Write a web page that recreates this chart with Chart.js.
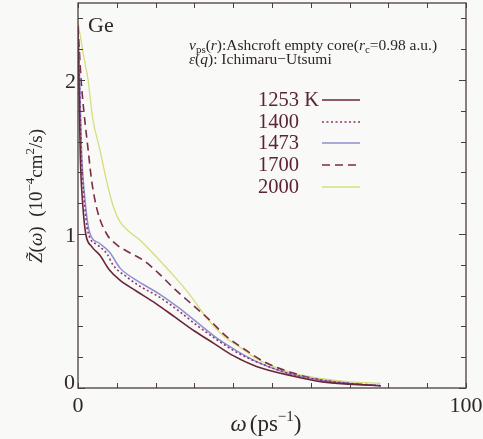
<!DOCTYPE html>
<html><head><meta charset="utf-8">
<script src="https://cdn.jsdelivr.net/npm/chart.js@4.4.1/dist/chart.umd.min.js"></script>
<style>html,body{margin:0;padding:0;background:#f9f9f7}#wrap{width:483px;height:439px;position:relative}
.pre{position:absolute;left:-999px;top:0;font-family:"Liberation Serif";}
.pre i{font-style:italic}</style>
</head><body><div id="wrap"><canvas id="c" width="483" height="439"></canvas></div>
<span class="pre">Ge 1253 <i>ω Z r q</i></span>
<script>
// ---- data ----
const seriesLabels = ["1253 K", "1400", "1473", "1700", "2000"];
const w1253 = [0, 0.3, 0.6, 1.2, 2, 3.5, 5.7, 8, 10.8, 15, 20, 25, 30, 35, 40, 46, 55, 63, 70, 78];
const z1253 = [2.3, 1.9, 1.5, 1.2, 1.0, 0.92, 0.86, 0.77, 0.70, 0.63, 0.55, 0.46, 0.37, 0.29, 0.21, 0.14, 0.08, 0.04, 0.025, 0.015];
const w1400 = [0, 0.4, 0.8, 1.5, 2.6, 5, 7.5, 9, 12.6, 16, 21, 26, 31, 36, 41, 47, 55, 63, 70, 78];
const z1400 = [2.3, 1.95, 1.55, 1.25, 1.01, 0.93, 0.87, 0.80, 0.72, 0.66, 0.59, 0.50, 0.40, 0.31, 0.23, 0.16, 0.09, 0.05, 0.03, 0.015];
const w1473 = [0, 0.5, 0.9, 1.7, 3, 5.5, 8.2, 10.8, 15, 21, 26, 31, 36, 41, 47, 55, 63, 70, 78];
const z1473 = [2.3, 1.95, 1.55, 1.25, 1.01, 0.94, 0.88, 0.78, 0.70, 0.61, 0.52, 0.42, 0.32, 0.24, 0.16, 0.09, 0.05, 0.03, 0.015];
const w1700 = [0, 0.8, 1.5, 2.6, 3.5, 5, 7.4, 10, 12.5, 16.8, 21, 25, 30, 34, 38, 43, 48, 55, 63, 70, 78];
const z1700 = [2.35, 2.0, 1.8, 1.55, 1.35, 1.15, 1.0, 0.93, 0.89, 0.83, 0.74, 0.64, 0.53, 0.44, 0.34, 0.25, 0.17, 0.10, 0.05, 0.03, 0.015];
const w2000 = [0, 0.5, 1.5, 2.6, 3.8, 5.7, 7.5, 9.2, 10.8, 13, 16, 21, 25, 29, 33, 37.4, 42, 46, 55, 63, 70, 78];
const z2000 = [2.38, 2.3, 2.15, 2.0, 1.75, 1.54, 1.33, 1.17, 1.08, 1.02, 0.96, 0.83, 0.72, 0.60, 0.46, 0.34, 0.26, 0.19, 0.10, 0.06, 0.04, 0.03];
const xTickValues = [0, 10, 20, 30, 40, 50, 60, 70, 80, 90, 100];
const xTickLabels = [0, 100];
const yTickValues = [0, 0.2, 0.4, 0.6, 0.8, 1, 1.2, 1.4, 1.6, 1.8, 2, 2.2, 2.4];
const yTickLabels = [0, 1, 2];

const pts = (w, z) => w.map((x, i) => ({x: x, y: z[i]}));
const SER = [
  {w: w1253, z: z1253, color: '#6a2637', dash: [], width: 1.6},
  {w: w1400, z: z1400, color: '#8c3570', dash: [2, 2.5], width: 1.6},
  {w: w1473, z: z1473, color: '#8e8fcf', dash: [], width: 1.5},
  {w: w1700, z: z1700, color: '#7a2d45', dash: [8, 5], width: 1.6},
  {w: w2000, z: z2000, color: '#d9dc7c', dash: [], width: 1.3}
];

const serif = '"Liberation Serif", "Times New Roman", Times, serif';

function rich(ctx, x, y, segs, draw) {
  let cx = x;
  for (const s of segs) {
    ctx.font = s.f;
    if (draw) ctx.fillText(s.t, cx, y + (s.dy || 0));
    cx += ctx.measureText(s.t).width + (s.sp || 0);
  }
  return cx - x;
}

const deco = {
  id: 'deco',
  afterDraw(chart) {
    const ctx = chart.ctx, a = chart.chartArea;
    const xs = chart.scales.x, ys = chart.scales.y;
    ctx.save();
    ctx.strokeStyle = '#4a3d40'; ctx.lineWidth = 1.3;
    ctx.strokeRect(a.left, a.top, a.right - a.left, a.bottom - a.top);
    ctx.lineWidth = 1;
    ctx.beginPath();
    for (const v of xTickValues) {
      const px = Math.round(xs.getPixelForValue(v)) + 0.5;
      ctx.moveTo(px, a.bottom); ctx.lineTo(px, a.bottom - 5);
      ctx.moveTo(px, a.top); ctx.lineTo(px, a.top + 5);
    }
    for (const v of yTickValues) {
      const py = Math.round(ys.getPixelForValue(v)) + 0.5;
      const L = (Math.abs(v - Math.round(v)) < 1e-6) ? 7 : 5;
      ctx.moveTo(a.left, py); ctx.lineTo(a.left + L, py);
      ctx.moveTo(a.right, py); ctx.lineTo(a.right - L, py);
    }
    ctx.stroke();

    ctx.fillStyle = '#2e2628';
    ctx.font = '22px ' + serif;
    ctx.textBaseline = 'alphabetic';
    ctx.textAlign = 'right';
    for (const v of yTickLabels) {
      const py = ys.getPixelForValue(v);
      if (v === 0) ctx.fillText(String(v), a.left - 3, py + 1);
      else ctx.fillText(String(v), a.left - 2, py + 8);
    }
    ctx.textAlign = 'center';
    for (const v of xTickLabels) {
      const px = xs.getPixelForValue(v);
      ctx.fillText(String(v), px, a.bottom + 24);
    }
    ctx.textAlign = 'left';

    const xt = [
      {t: 'ω', f: 'italic 23px ' + serif, sp: 3},
      {t: '(ps', f: '23px ' + serif},
      {t: '−1', f: '15px ' + serif, dy: -10},
      {t: ')', f: '23px ' + serif}
    ];
    const xw = rich(ctx, 0, 0, xt, false);
    rich(ctx, 266 - xw / 2, 431, xt, true);

    const yt = [
      {t: 'Z̃', f: 'italic 19px ' + serif},
      {t: '(', f: '19px ' + serif},
      {t: 'ω', f: 'italic 19px ' + serif},
      {t: ')  (10', f: '19px ' + serif},
      {t: '−4', f: '13px ' + serif, dy: -8},
      {t: 'cm', f: '19px ' + serif},
      {t: '2', f: '13px ' + serif, dy: -8},
      {t: '/s)', f: '19px ' + serif}
    ];
    const yw = rich(ctx, 0, 0, yt, false);
    ctx.save();
    ctx.translate(42, 196);
    ctx.rotate(-Math.PI / 2);
    rich(ctx, -yw / 2, 0, yt, true);
    ctx.restore();

    ctx.font = '22px ' + serif;
    ctx.fillText('Ge', 88, 32);

    const l1 = [
      {t: 'v', f: 'italic 15.5px ' + serif},
      {t: 'ps', f: '11px ' + serif, dy: 3},
      {t: '(', f: '15.5px ' + serif},
      {t: 'r', f: 'italic 15.5px ' + serif},
      {t: '):Ashcroft empty core(', f: '15.5px ' + serif},
      {t: 'r', f: 'italic 15.5px ' + serif},
      {t: 'c', f: '11px ' + serif, dy: 3},
      {t: '=0.98 a.u.)', f: '15.5px ' + serif}
    ];
    rich(ctx, 189, 50, l1, true);
    const l2 = [
      {t: 'ε', f: 'italic 15.5px ' + serif},
      {t: '(', f: '15.5px ' + serif},
      {t: 'q', f: 'italic 15.5px ' + serif},
      {t: '): Ichimaru−Utsumi', f: '15.5px ' + serif}
    ];
    rich(ctx, 189, 64, l2, true);

    ctx.font = '20.5px ' + serif;
    const rowY = [106, 128, 149, 171, 193];
    seriesLabels.forEach((lab, i) => {
      ctx.fillStyle = '#5a2432';
      ctx.fillText(lab, 258, rowY[i]);
      const s = SER[i];
      ctx.strokeStyle = s.color; ctx.lineWidth = s.width;
      ctx.setLineDash(s.dash);
      ctx.beginPath();
      ctx.moveTo(322, rowY[i] - 6); ctx.lineTo(360, rowY[i] - 6);
      ctx.stroke();
      ctx.setLineDash([]);
    });
    ctx.restore();
  }
};

function build() {
  new Chart(document.getElementById('c'), {
    type: 'line',
    data: {
      datasets: SER.map((s, i) => ({
        label: seriesLabels[i],
        data: pts(s.w, s.z),
        borderColor: s.color,
        borderWidth: s.width,
        borderDash: s.dash,
        pointRadius: 0,
        fill: false,
        cubicInterpolationMode: 'monotone'
      }))
    },
    options: {
      responsive: false,
      devicePixelRatio: 1,
      animation: false,
      layout: {padding: {left: 78, right: 17, top: 3, bottom: 51}},
      plugins: {legend: {display: false}, tooltip: {enabled: false}},
      scales: {
        x: {type: 'linear', min: 0, max: 100, display: false},
        y: {type: 'linear', min: 0, max: 2.5, display: false}
      }
    },
    plugins: [deco]
  });
}
Promise.all([
  document.fonts.load('22px "Liberation Serif"'),
  document.fonts.load('italic 22px "Liberation Serif"')
]).then(build, build);
</script>
</body></html>
